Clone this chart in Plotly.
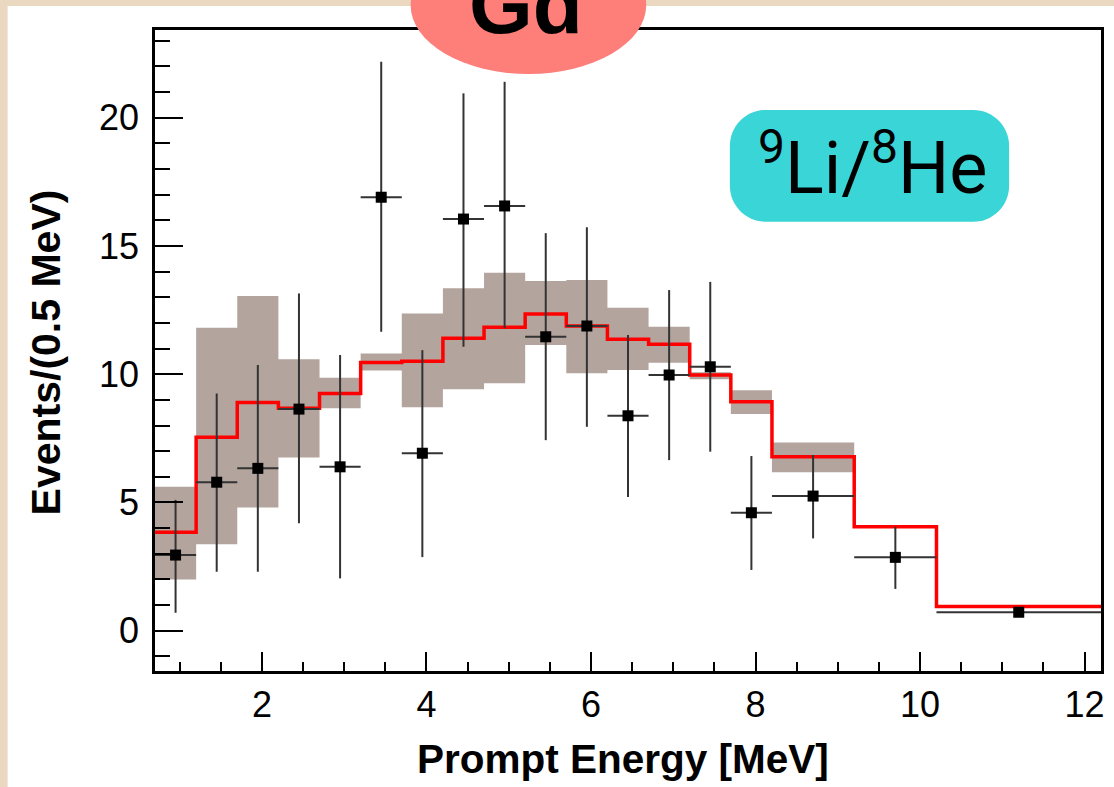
import plotly.graph_objects as go

# ---------------- data ----------------
bin_edges = [0.7, 1.2, 1.7, 2.2, 2.7, 3.2, 3.7, 4.2, 4.7, 5.2, 5.7, 6.2, 6.7, 7.2, 7.7, 8.2, 9.2, 10.2, 12.2]
prediction = [3.84, 7.54, 8.9, 8.67, 9.25, 10.46, 10.51, 11.4, 11.83, 12.35, 11.88, 11.36, 11.17, 9.97, 8.93, 6.78, 4.05, 0.94]

band_edges = [0.7, 1.2, 1.7, 2.2, 2.7, 3.2, 3.7, 4.2, 4.7, 5.2, 5.7, 6.2, 6.7, 7.2, 7.7, 8.2, 9.2]
band_low = [2.0, 3.37, 4.8, 6.75, 8.67, 10.15, 8.71, 9.41, 9.65, 11.14, 10.04, 10.16, 10.45, 9.8, 8.45, 6.18]
band_high = [5.61, 11.81, 13.05, 10.58, 9.86, 10.81, 12.37, 13.35, 13.96, 13.63, 13.67, 12.59, 11.85, 10.08, 9.38, 7.34]

data_energy = [0.95, 1.45, 1.95, 2.45, 2.95, 3.45, 3.95, 4.45, 4.95, 5.45, 5.95, 6.45, 6.95, 7.45, 7.95, 8.7, 9.7, 11.2]
data_events = [2.95, 5.79, 6.33, 8.64, 6.39, 16.9, 6.92, 16.05, 16.56, 11.46, 11.88, 8.38, 9.97, 10.29, 4.6, 5.25, 2.86, 0.72]
data_upper = [5.1, 9.25, 10.36, 13.15, 10.75, 22.18, 10.94, 20.95, 21.4, 15.5, 15.73, 11.53, 13.28, 13.6, 6.81, 6.85, 4.05, 0.85]
data_lower = [0.7, 2.3, 2.3, 4.19, 2.04, 11.66, 2.87, 11.07, 11.79, 7.43, 7.95, 5.21, 6.65, 6.98, 2.37, 3.6, 1.63, 0.6]
data_halfwidth = [0.25] * 15 + [0.5, 0.5, 1.0]

x_ticks = [2, 4, 6, 8, 10, 12]
y_ticks = [0, 5, 10, 15, 20]

# ---------------- layout geometry (pixels) ----------------
W, H = 1114, 787
L, R, T, B = 155, 1105, 30, 671


def px(xp):
    return (xp - L) / (R - L)


def py(yp):
    return (B - yp) / (B - T)


FONT = "Liberation Sans, Arial, sans-serif"

fig = go.Figure()

# systematic band
fig.add_trace(go.Scatter(
    x=band_edges, y=band_low + [band_low[-1]], mode="lines",
    line=dict(shape="hv", width=0, color="rgba(0,0,0,0)"),
    hoverinfo="skip", showlegend=False))
fig.add_trace(go.Scatter(
    x=band_edges, y=band_high + [band_high[-1]], mode="lines",
    line=dict(shape="hv", width=0, color="rgba(0,0,0,0)"),
    fill="tonexty", fillcolor="#B4A49E",
    hoverinfo="skip", showlegend=False))

# prediction histogram
fig.add_trace(go.Scatter(
    x=bin_edges, y=prediction + [prediction[-1]], mode="lines",
    line=dict(shape="hv", width=3.5, color="#FF0000"),
    showlegend=False))

# data points
err_plus = [u - v for u, v in zip(data_upper, data_events)]
err_minus = [v - d for v, d in zip(data_events, data_lower)]
fig.add_trace(go.Scatter(
    x=data_energy, y=data_events, mode="markers",
    marker=dict(symbol="square", size=11, color="black"),
    error_y=dict(type="data", symmetric=False, array=err_plus, arrayminus=err_minus,
                 width=0, thickness=2, color="#333333"),
    error_x=dict(type="data", array=data_halfwidth, width=0, thickness=2, color="#333333"),
    showlegend=False))

shapes = []
# white panel
shapes.append(dict(type="rect", xref="paper", yref="paper",
                   x0=px(7), x1=px(1120), y0=py(795), y1=py(6),
                   fillcolor="white", line=dict(width=0), layer="below"))
# Gd ellipse
shapes.append(dict(type="circle", xref="paper", yref="paper",
                   x0=px(411.7), x1=px(648.3), y0=py(74), y1=py(-64),
                   fillcolor="#FE7E79", line=dict(width=0), layer="above"))

# rounded rectangle for 9Li/8He label
bx0, bx1, by0, by1, rad = 732.3, 1012.7, 110, 221.7, 36
k = 0.5523


def P(xp, yp):
    return f"{px(xp):.6f},{py(yp):.6f}"


path = (
    f"M {P(bx0 + rad, by0)} L {P(bx1 - rad, by0)} "
    f"C {P(bx1 - rad + k * rad, by0)} {P(bx1, by0 + rad - k * rad)} {P(bx1, by0 + rad)} "
    f"L {P(bx1, by1 - rad)} "
    f"C {P(bx1, by1 - rad + k * rad)} {P(bx1 - rad + k * rad, by1)} {P(bx1 - rad, by1)} "
    f"L {P(bx0 + rad, by1)} "
    f"C {P(bx0 + rad - k * rad, by1)} {P(bx0, by1 - rad + k * rad)} {P(bx0, by1 - rad)} "
    f"L {P(bx0, by0 + rad)} "
    f"C {P(bx0, by0 + rad - k * rad)} {P(bx0 + rad - k * rad, by0)} {P(bx0 + rad, by0)} Z"
)
shapes.append(dict(type="path", xref="paper", yref="paper", path=path,
                   fillcolor="#3AD5D6", line=dict(width=0), layer="above"))

annotations = [
    dict(text="<b>Gd</b>", xref="paper", yref="paper", x=px(528), y=py(4.6),
         xanchor="center", yanchor="middle", showarrow=False,
         font=dict(family=FONT, size=82, color="black")),
    dict(text="<sup><span style='font-size:48px'>9</span></sup>Li/<sup><span style='font-size:48px'>8</span></sup>He",
         xref="paper", yref="paper",
         x=px(876), y=py(164), xanchor="center", yanchor="middle", showarrow=False,
         font=dict(family="Roboto, sans-serif", size=72, color="black")),
    dict(text="<b>Prompt Energy [MeV]</b>", xref="paper", yref="paper",
         x=px(625), y=py(759), xanchor="center", yanchor="middle", showarrow=False,
         font=dict(family=FONT, size=40.5, color="black")),
    dict(text="<b>Events/(0.5 MeV)</b>", xref="paper", yref="paper",
         x=px(46), y=py(352), xanchor="center", yanchor="middle", showarrow=False,
         textangle=-90, font=dict(family=FONT, size=41, color="black")),
]

fig.update_layout(
    width=W, height=H,
    margin=dict(l=L, r=W - R, t=T, b=H - B, pad=0),
    paper_bgcolor="#EAD8C0",
    plot_bgcolor="white",
    shapes=shapes,
    annotations=annotations,
    showlegend=False,
)

fig.update_xaxes(
    range=[0.7, 12.2], tickvals=x_ticks, ticktext=[str(v) for v in x_ticks],
    showgrid=False, zeroline=False,
    showline=True, linecolor="black", linewidth=2.5, mirror=True,
    ticks="inside", ticklen=19, tickwidth=2.2, tickcolor="black",
    minor=dict(ticks="inside", ticklen=9, tickwidth=2, tickcolor="black", dtick=0.5, tick0=0, showgrid=False),
    tickfont=dict(family=FONT, size=36, color="black"),
    ticklabelstandoff=0,
)
fig.update_yaxes(
    range=[-1.57, 23.42], tickvals=y_ticks, ticktext=[str(v) for v in y_ticks],
    showgrid=False, zeroline=False,
    showline=True, linecolor="black", linewidth=2.5, mirror=True,
    ticks="inside", ticklen=28, tickwidth=2.2, tickcolor="black",
    minor=dict(ticks="inside", ticklen=15, tickwidth=2, tickcolor="black", dtick=1, tick0=0, showgrid=False),
    tickfont=dict(family=FONT, size=36, color="black"),
    ticklabelstandoff=6,
)

fig.write_html("out.html")
